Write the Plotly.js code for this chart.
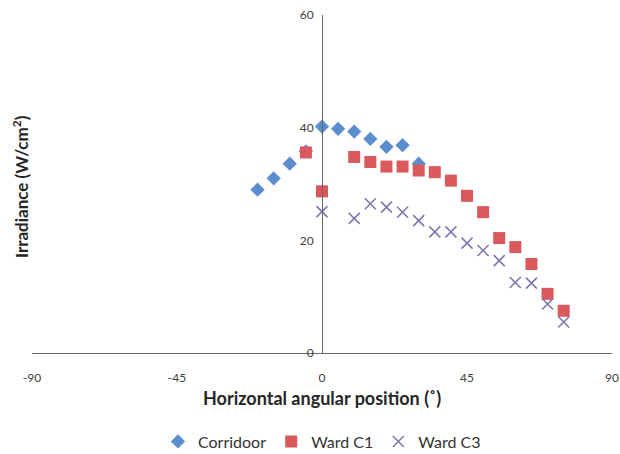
<!DOCTYPE html>
<html>
<head>
<meta charset="utf-8">
<script src="https://cdn.plot.ly/plotly-3.0.1.min.js"></script>
<style>html,body{margin:0;padding:0;background:#fff;}#chart{width:620px;height:454px;}</style>
</head>
<body>
<div id="chart"></div>
<script>
const corridoorX = [-20, -15, -10, -5, 0, 5, 10, 15, 20, 25, 30];
const corridoorY = [29.0, 31.0, 33.6, 35.8, 40.2, 39.8, 39.3, 38.0, 36.6, 36.9, 33.6];

const wardC1X = [-5, 0, 10, 15, 20, 25, 30, 35, 40, 45, 50, 55, 60, 65, 70, 75];
const wardC1Y = [35.6, 28.7, 34.8, 33.9, 33.1, 33.1, 32.4, 32.1, 30.6, 27.9, 25.0, 20.4, 18.8, 15.8, 10.5, 7.5];

const wardC3X = [0, 10, 15, 20, 25, 30, 35, 40, 45, 50, 55, 60, 65, 70, 75];
const wardC3Y = [25.1, 23.9, 26.5, 25.9, 25.0, 23.5, 21.5, 21.5, 19.5, 18.2, 16.4, 12.5, 12.4, 8.7, 5.5];

const xTicks = [-90, -45, 0, 45, 90];
const yTicks = [0, 20, 40, 60];

const FONT = "Lato, 'Liberation Sans', sans-serif";

const traces = [
  {x: corridoorX, y: corridoorY, name: 'Corridoor', mode: 'markers', type: 'scatter',
   marker: {symbol: 'diamond', size: 11, color: '#5b8dcf'}},
  {x: wardC1X, y: wardC1Y, name: 'Ward C1', mode: 'markers', type: 'scatter',
   marker: {symbol: 'square', size: 12, color: '#d9595c'}},
  {x: wardC3X, y: wardC3Y, name: 'Ward C3', mode: 'markers', type: 'scatter',
   marker: {symbol: 'x-thin-open', size: 11, color: '#7d73ad', line: {width: 1.5, color: '#7d73ad'}}}
];

const layout = {
  width: 620, height: 454,
  margin: {l: 32, r: 8, t: 15, b: 101, autoexpand: false},
  paper_bgcolor: '#fff', plot_bgcolor: '#fff',
  font: {family: FONT, size: 12, color: '#404040'},
  showlegend: true,
  legend: {orientation: 'h', x: 0.5, xanchor: 'center', y: -0.262, yanchor: 'middle',
           font: {family: FONT, size: 16, color: '#333'}, itemwidth: 30, traceorder: 'normal'},
  xaxis: {range: [-90, 90], tickvals: xTicks, ticktext: xTicks.map(String),
          showgrid: false, zeroline: false, showline: true, linecolor: '#666', linewidth: 1,
          ticks: 'outside', ticklen: 14, tickcolor: 'rgba(0,0,0,0)', fixedrange: true},
  yaxis: {range: [0, 60], tickvals: yTicks, ticktext: yTicks.map(String),
          anchor: 'free', position: 0.5,
          showgrid: false, zeroline: false, showline: true, linecolor: '#666', linewidth: 1,
          ticks: 'outside', ticklen: 6, tickcolor: 'rgba(0,0,0,0)', fixedrange: true},
  annotations: [
    {text: '<b>Horizontal angular position (˚)</b>', xref: 'paper', yref: 'paper',
     x: 0.5, y: -0.133, xanchor: 'center', yanchor: 'middle', showarrow: false,
     font: {family: FONT, size: 18, color: '#262626'}},
    {text: '<b>Irradiance (W/cm<sup>2</sup>)</b>', xref: 'paper', yref: 'paper',
     x: -0.0207, y: 0.494, xanchor: 'center', yanchor: 'middle', textangle: -90, showarrow: false,
     font: {family: FONT, size: 17, color: '#262626'}}
  ]
};

Plotly.newPlot('chart', traces, layout, {displayModeBar: false, staticPlot: true});
</script>
</body>
</html>
